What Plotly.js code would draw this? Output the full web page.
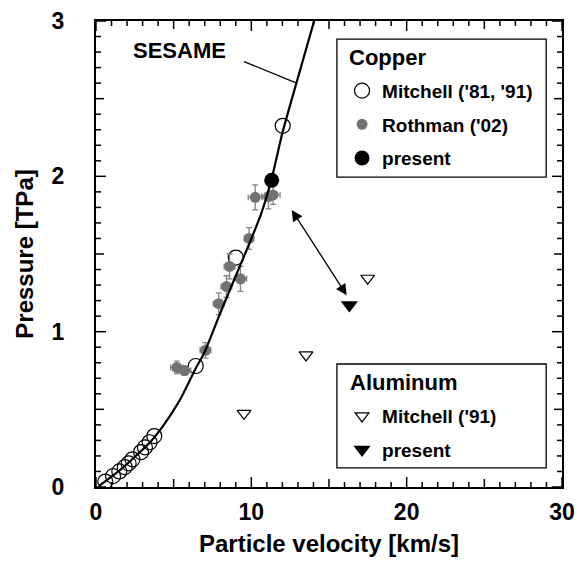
<!DOCTYPE html>
<html><head><meta charset="utf-8">
<script src="https://cdn.plot.ly/plotly-3.0.1.min.js"></script>
<style>html,body{margin:0;padding:0;background:#fff;}#chart{width:579px;height:566px;}</style>
</head><body><div id="chart"></div>
<script>
// SESAME copper Hugoniot
const sesameU = [0.2, 0.7, 1.5, 2.4, 3.5, 4.3, 5.4, 6.4, 7.0, 8.0, 9.0, 9.8, 10.6, 11.3, 12.0, 12.9, 14.1];
const sesameP = [0.008, 0.045, 0.105, 0.185, 0.29, 0.39, 0.56, 0.76, 0.87, 1.12, 1.36, 1.55, 1.75, 1.98, 2.28, 2.60, 3.02];

// Copper – Mitchell ('81, '91)
const mitchellCuU = [0.6, 1.1, 1.5, 1.85, 2.1, 2.35, 2.9, 3.15, 3.45, 3.75, 6.42, 9.0, 12.02];
const mitchellCuP = [0.035, 0.07, 0.1, 0.128, 0.152, 0.178, 0.225, 0.255, 0.288, 0.328, 0.779, 1.477, 2.325];

// Copper – Rothman ('02)
const rothmanU    = [5.2, 5.7, 7.05, 7.9, 8.4, 8.6, 9.3, 9.85, 10.25, 11.1, 11.4];
const rothmanP    = [0.77, 0.75, 0.88, 1.18, 1.29, 1.42, 1.34, 1.60, 1.865, 1.87, 1.88];
const rothmanErrU = [0.4, 0.4, 0.35, 0.35, 0.35, 0.35, 0.4, 0.3, 0.45, 0.45, 0.45];
const rothmanErrP = [0.04, 0.03, 0.05, 0.07, 0.07, 0.08, 0.08, 0.07, 0.08, 0.08, 0.06];

// Copper – present
const presentCuU = [11.31];
const presentCuP = [1.975];

// Aluminum – Mitchell ('91)
const mitchellAlU = [9.53, 13.52, 17.49];
const mitchellAlP = [0.474, 0.85, 1.344];

// Aluminum – present
const presentAlU = [16.31];
const presentAlP = [1.172];

const xTickVals = [0, 10, 20, 30];
const xTickText = ['0', '10', '20', '30'];
const yTickVals = [0, 1, 2, 3];
const yTickText = ['0', '1', '2', '3'];

const FONT = 'Liberation Sans, Arial, Helvetica, sans-serif';

const traces = [
  {x: mitchellCuU, y: mitchellCuP, type: 'scatter', mode: 'markers', name: "Mitchell ('81, '91)",
   legend: 'legend', legendgroup: 'a', legendrank: 1,
   marker: {symbol: 'circle-open', size: 15, color: 'black', line: {width: 1.2, color: 'black'}}},
  {x: rothmanU, y: rothmanP, type: 'scatter', mode: 'markers', name: "Rothman ('02)",
   legend: 'legend', legendgroup: 'b', legendrank: 2,
   marker: {symbol: 'circle', size: 11, color: '#727272'},
   error_x: {type: 'data', array: rothmanErrU, color: '#858585', thickness: 1.3, width: 3},
   error_y: {type: 'data', array: rothmanErrP, color: '#858585', thickness: 1.3, width: 3}},
  {x: sesameU, y: sesameP, type: 'scatter', mode: 'lines', name: 'SESAME', showlegend: false,
   line: {color: 'black', width: 2.2, shape: 'spline', smoothing: 0.6}},
  {x: presentCuU, y: presentCuP, type: 'scatter', mode: 'markers', name: 'present',
   legend: 'legend', legendgroup: 'c', legendrank: 3,
   marker: {symbol: 'circle', size: 15, color: 'black'}},
  {x: mitchellAlU, y: mitchellAlP, type: 'scatter', mode: 'markers', name: "Mitchell ('91)",
   legend: 'legend2', legendgroup: 'd', legendrank: 4,
   marker: {symbol: 'triangle-down-open', size: 12, color: 'black', line: {width: 1.2, color: 'black'}}},
  {x: presentAlU, y: presentAlP, type: 'scatter', mode: 'markers', name: 'present',
   legend: 'legend2', legendgroup: 'e', legendrank: 5,
   marker: {symbol: 'triangle-down', size: 15, color: 'black'}}
];

function axisBase() {
  return {
    ticks: '', showline: true, linewidth: 2, linecolor: 'black', mirror: true,
    showgrid: false, zeroline: false,
    tickfont: {family: FONT, size: 23, color: 'black', weight: 'bold'}
  };
}

const xaxis = Object.assign(axisBase(), {
  range: [0, 30], tickmode: 'array', tickvals: xTickVals, ticktext: xTickText,
  ticklabelstandoff: 3,
  title: {text: 'Particle velocity [km/s]', standoff: 12, font: {family: FONT, size: 24, color: 'black', weight: 'bold'}}
});
const yaxis = Object.assign(axisBase(), {
  range: [0, 3], tickmode: 'array', tickvals: yTickVals, ticktext: yTickText,
  ticklabelstandoff: 25,
  title: {text: 'Pressure [TPa]', standoff: 11, font: {family: FONT, size: 24, color: 'black', weight: 'bold'}}
});

// Inward tick marks on all four sides, built from the axis ranges
const tickShapes = [];
const tickLine = {color: 'black', width: 1.5};
for (let i = 0; i <= 30; i++) {
  const len = (i % 10 === 0) ? 10 : (i % 5 === 0 ? 8 : 5);
  tickShapes.push({type: 'line', xref: 'x', yref: 'paper', ysizemode: 'pixel', yanchor: 0,
    x0: i, x1: i, y0: 0, y1: len, line: tickLine, layer: 'above'});
  tickShapes.push({type: 'line', xref: 'x', yref: 'paper', ysizemode: 'pixel', yanchor: 1,
    x0: i, x1: i, y0: 0, y1: -len, line: tickLine, layer: 'above'});
}
for (let i = 0; i <= 30; i++) {
  const v = i / 10;
  const len = (i % 10 === 0) ? 10 : (i % 5 === 0 ? 8 : 5);
  tickShapes.push({type: 'line', xref: 'paper', yref: 'y', xsizemode: 'pixel', xanchor: 0,
    y0: v, y1: v, x0: 0, x1: len, line: tickLine, layer: 'above'});
  tickShapes.push({type: 'line', xref: 'paper', yref: 'y', xsizemode: 'pixel', xanchor: 1,
    y0: v, y1: v, x0: 0, x1: -len, line: tickLine, layer: 'above'});
}

const legendBase = {
  xanchor: 'left', yanchor: 'top', bgcolor: 'rgba(0,0,0,0)', borderwidth: 0,
  font: {family: FONT, size: 19, color: 'black', weight: 'bold'},
  traceorder: 'grouped', tracegroupgap: 6
};

const titleFont = {family: FONT, size: 22, color: 'black', weight: 'bold'};

const layout = {
  width: 579, height: 566,
  margin: {l: 96, r: 17, t: 21, b: 79},
  paper_bgcolor: 'white', plot_bgcolor: 'white',
  font: {family: FONT, color: 'black'},
  xaxis: xaxis, yaxis: yaxis,
  legend: Object.assign({}, legendBase, {x: 0.528, y: 0.891}),
  legend2: Object.assign({}, legendBase, {x: 0.528, y: 0.193}),
  shapes: [
    {type: 'rect', xref: 'paper', yref: 'paper', x0: 0.517, x1: 0.966, y0: 0.665, y1: 0.961,
     line: {color: 'black', width: 1.3}, fillcolor: 'rgba(0,0,0,0)', layer: 'above'},
    {type: 'rect', xref: 'paper', yref: 'paper', x0: 0.517, x1: 0.966, y0: 0.041, y1: 0.264,
     line: {color: 'black', width: 1.3}, fillcolor: 'rgba(0,0,0,0)', layer: 'above'},
    {type: 'line', xref: 'x', yref: 'y', x0: 9.53, y0: 2.739, x1: 12.92, y1: 2.60,
     line: {color: 'black', width: 1.3}, layer: 'above'}
  ].concat(tickShapes),
  annotations: [
    {x: 0.5386, y: 0.9227, xref: 'paper', yref: 'paper', xanchor: 'left', yanchor: 'middle',
     text: 'Copper', showarrow: false, font: titleFont},
    {x: 0.5408, y: 0.2232, xref: 'paper', yref: 'paper', xanchor: 'left', yanchor: 'middle',
     text: 'Aluminum', showarrow: false, font: titleFont},
    {x: 5.38, y: 2.807, xref: 'x', yref: 'y', text: 'SESAME', showarrow: false,
     font: {family: FONT, size: 22, color: 'black', weight: 'bold'}},
    {x: 12.6, y: 1.784, xref: 'x', yref: 'y', ax: 16.2, ay: 1.225, axref: 'x', ayref: 'y',
     text: '', showarrow: true, arrowside: 'end+start', arrowhead: 2, startarrowhead: 2,
     arrowsize: 1.7, startarrowsize: 1.7, arrowwidth: 1.3, arrowcolor: 'black'}
  ]
};

Plotly.newPlot('chart', traces, layout, {displayModeBar: false, staticPlot: true});
</script>
</body></html>
